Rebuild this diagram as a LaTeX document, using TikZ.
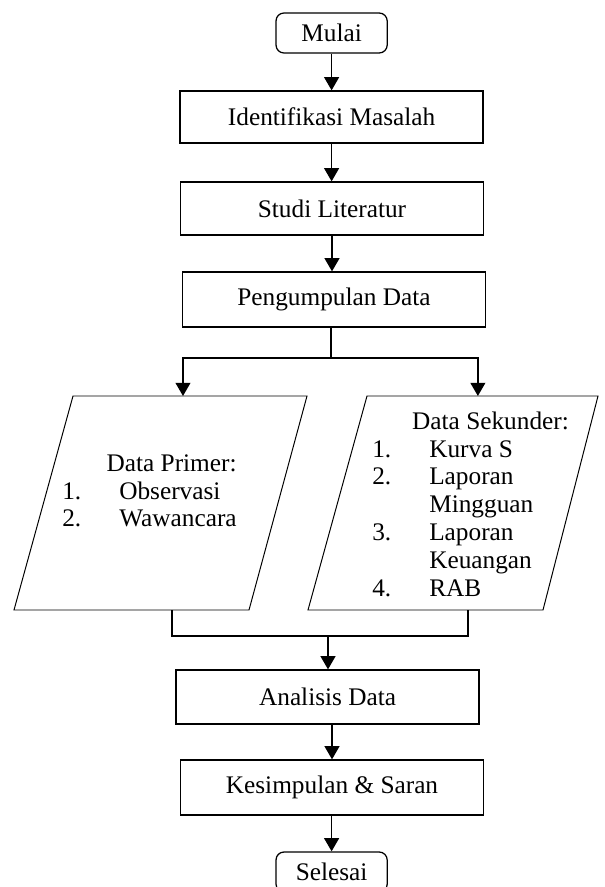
\documentclass[tikz,border=0pt]{standalone}
\usepackage{fontspec}
\setmainfont{Liberation Serif}
\usetikzlibrary{arrows.meta,calc}

\tikzset{
    box/.style={draw, line width=0.9pt, minimum width=7.575cm, minimum height=1.325cm, inner sep=0pt},
    terminal/.style={draw, line width=0.9pt, rounded corners=0.2cm, minimum width=2.78cm, minimum height=1cm, inner sep=0pt},
    datashape/.style={draw, line width=0.7pt},
    link/.style={line width=1.2pt},
    arr/.style={line width=1.2pt, -{Triangle[width=0.37cm,length=0.33cm]}}
}

\begin{document}
\begin{tikzpicture}[font=\fontsize{18}{19.9}\selectfont]
        \useasboundingbox (0,0) rectangle (15.1,-22.175);

        % Main steps
        \node (mulai) at (8.29,-0.825) [terminal] {Mulai};
        \node (ident) at (8.29,-2.925) [box, minimum height=1.3cm] {Identifikasi Masalah};
        \node (studi) at (8.3,-5.2125) [box] {Studi Literatur};
        \node (kumpul) at (8.35,-7.4875) [box, minimum height=1.375cm] {Pengumpulan Data};

        \draw[arr] (mulai) -- (ident);
        \draw[arr] (ident.south) -- (ident.south |- studi.north);
        \draw[arr] (studi.south) -- (studi.south |- kumpul.north);

        % Two data sources
        \draw[datashape] (1.825,-9.9) coordinate (prim tl) -- (7.675,-9.9) coordinate (prim tr)
            -- (6.225,-15.25) coordinate (prim br) -- (0.35,-15.25) coordinate (prim bl) -- cycle;
        \draw[datashape] (9.175,-9.9) coordinate (sek tl) -- (14.95,-9.9) coordinate (sek tr)
            -- (13.575,-15.25) coordinate (sek br) -- (7.7,-15.25) coordinate (sek bl) -- cycle;

        \node (primtitle) at (4.29,-11.775) [anchor=base] {Data Primer:};
        \node (primlist) at (1.55,-12.475) [anchor=base west, inner sep=0pt] {%
            \begin{tabular}[t]{@{}p{1.425cm}@{}l@{}}
                1. & Observasi\\
                2. & Wawancara
            \end{tabular}};

        \node (sektitle) at (12.2625,-10.725) [anchor=base] {Data Sekunder:};
        \node (seklist) at (9.3,-11.425) [anchor=base west, inner sep=0pt] {%
            \begin{tabular}[t]{@{}p{1.425cm}@{}l@{}}
                1. & Kurva S\\
                2. & Laporan\\
                   & Mingguan\\
                3. & Laporan\\
                   & Keuangan\\
                4. & RAB
            \end{tabular}};

        % Split into the two sources
        \coordinate (split) at (8.275,-8.95);
        \coordinate (prim top) at ($(prim tl)!0.47!(prim tr)$);
        \coordinate (sek top) at ($(sek tl)!0.48!(sek tr)$);
        \draw[link] (kumpul.south -| split) -- (split);
        \draw[arr] (split) -| (prim top);
        \draw[arr] (split) -| (sek top);

        % Join them again
        \coordinate (prim bot) at ($(prim bl)!0.672!(prim br)$);
        \coordinate (sek bot) at ($(sek bl)!0.68!(sek br)$);
        \coordinate (join) at (8.2,-15.9);
        \draw[link] (prim bot) |- (join) -| (sek bot);

        % Last steps
        \node (analisis) at (8.19,-17.425) [box, minimum height=1.35cm] {Analisis Data};
        \node (kesimpulan) at (8.3,-19.6875) [box, minimum height=1.375cm] {Kesimpulan \& Saran};
        \node (selesai) at (8.29,-21.8) [terminal] {Selesai};

        \draw[arr] (join) -- (analisis.north -| join);
        \draw[arr] (analisis.south -| kesimpulan) -- (kesimpulan.north);
        \draw[arr] (kesimpulan.south -| selesai) -- (selesai.north);

    \end{tikzpicture}
\end{document}
